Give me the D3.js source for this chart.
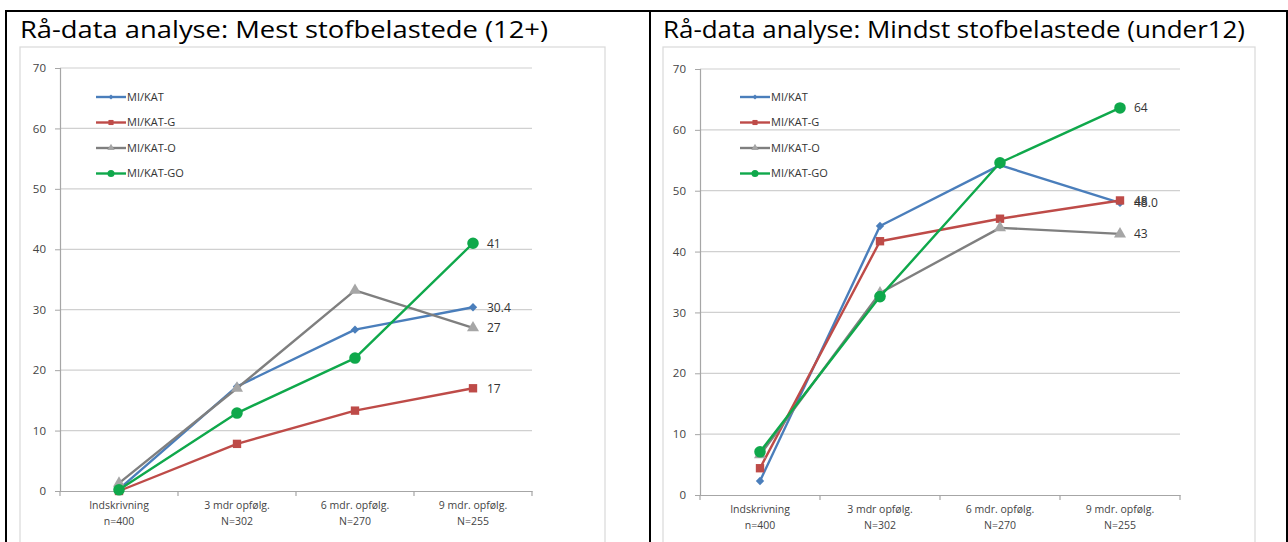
<!DOCTYPE html>
<html>
<head>
<meta charset="utf-8">
<script src="https://cdn.jsdelivr.net/npm/d3@7/dist/d3.min.js"></script>
<style>
  html, body { margin: 0; padding: 0; background: #fff; }
  svg { display: block; }
  .tick text { font-family: "Open Sans", "Noto Sans", sans-serif; }
</style>
</head>
<body>
<svg id="page" width="1288" height="542"></svg>
<script>
// Follow-up time points (two label lines each)
const categoryNames = ["Indskrivning", "3 mdr opfølg.", "6 mdr. opfølg.", "9 mdr. opfølg."];
const categoryCounts = ["n=400", "N=302", "N=270", "N=255"];
const yTicks = [0, 10, 20, 30, 40, 50, 60, 70];

const seriesNames = ["MI/KAT", "MI/KAT-G", "MI/KAT-O", "MI/KAT-GO"];
const seriesColors = ["#4a7ebb", "#be4b48", "#7f7f7f", "#0fa84b"];
const markerColors = ["#4a7ebb", "#be4b48", "#a6a6a6", "#0fa84b"];
const seriesFormats = [".1f", ".0f", ".0f", ".0f"];

// Mest stofbelastede (12+)
const mostKAT   = [0.3, 17.3, 26.7, 30.4];
const mostKATG  = [0.0, 7.8, 13.3, 17.0];
const mostKATO  = [1.3, 17.0, 33.2, 27.0];
const mostKATGO = [0.2, 12.9, 22.0, 41.0];

// Mindst stofbelastede (under12)
const leastKAT   = [2.3, 44.2, 54.2, 48.0];
const leastKATG  = [4.4, 41.7, 45.4, 48.4];
const leastKATO  = [6.6, 33.2, 43.9, 42.9];
const leastKATGO = [7.1, 32.6, 54.6, 63.6];

const titles = [
  "Rå-data analyse: Mest stofbelastede (12+)",
  "Rå-data analyse: Mindst stofbelastede (under12)"
];

const svg = d3.select("#page");

// table frame
svg.append("line").attr("x1", 5).attr("x2", 1288).attr("y1", 11).attr("y2", 11)
  .attr("stroke", "#000").attr("stroke-width", 2);
[6, 650, 1287].forEach(x => {
  svg.append("line").attr("x1", x).attr("x2", x).attr("y1", 10).attr("y2", 542)
    .attr("stroke", "#000").attr("stroke-width", 2);
});

function drawChart(cfg) {
  const g = svg.append("g");

  // cell heading
  g.append("text")
    .attr("x", cfg.titleX).attr("y", 38)
    .attr("font-family", "'Open Sans', 'Noto Sans', sans-serif")
    .attr("font-size", 24.5)
    .attr("fill", "#000")
    .attr("textLength", cfg.titleW)
    .attr("lengthAdjust", "spacingAndGlyphs")
    .text(cfg.title);

  // chart area frame
  g.append("rect")
    .attr("x", cfg.box[0]).attr("y", cfg.box[1])
    .attr("width", cfg.box[2]).attr("height", cfg.box[3])
    .attr("fill", "#fff").attr("stroke", "#d9d9d9").attr("stroke-width", 1.2);

  const x = d3.scaleBand().domain(categoryNames).range([cfg.left, cfg.right]).padding(0);
  const y = d3.scaleLinear().domain([0, 70]).range([cfg.bottom, cfg.top]);

  // gridlines
  g.append("g").selectAll("line").data(yTicks.filter(t => t > 0)).join("line")
    .attr("x1", cfg.left).attr("x2", cfg.right)
    .attr("y1", d => y(d)).attr("y2", d => y(d))
    .attr("stroke", "#d0d0d0").attr("stroke-width", 1.2);

  // y axis
  const ya = g.append("g").attr("transform", `translate(${cfg.left},0)`)
    .call(d3.axisLeft(y).tickValues(yTicks).tickSize(5).tickPadding(9).tickFormat(d3.format("d")));
  ya.select(".domain").attr("stroke", "#a6a6a6").attr("stroke-width", 1.2);
  ya.selectAll(".tick line").attr("stroke", "#a6a6a6");
  ya.selectAll(".tick text").attr("font-size", 11.5).attr("fill", "#444");

  // x axis
  const xa = g.append("g").attr("transform", `translate(0,${cfg.bottom})`)
    .call(d3.axisBottom(x).tickSize(0).tickFormat(() => ""));
  xa.select(".domain").attr("stroke", "#a6a6a6").attr("stroke-width", 1.2);
  const bounds = categoryNames.map(c => x(c)).concat([cfg.right]);
  g.append("g").selectAll("line").data(bounds).join("line")
    .attr("x1", d => d).attr("x2", d => d)
    .attr("y1", cfg.bottom).attr("y2", cfg.bottom + 5)
    .attr("stroke", "#a6a6a6").attr("stroke-width", 1.2);
  const cl = g.append("g").selectAll("text").data(categoryNames).join("text")
    .attr("x", d => x(d) + x.bandwidth() / 2)
    .attr("y", cfg.bottom + 18)
    .attr("text-anchor", "middle")
    .attr("font-family", "'Open Sans', 'Noto Sans', sans-serif")
    .attr("font-size", 10.5).attr("fill", "#444");
  cl.append("tspan").attr("x", d => x(d) + x.bandwidth() / 2).text(d => d);
  cl.append("tspan").attr("x", d => x(d) + x.bandwidth() / 2).attr("dy", 16)
    .text((d, i) => categoryCounts[i]);

  const cx = c => x(c) + x.bandwidth() / 2;
  const line = d3.line().x((d, i) => cx(categoryNames[i])).y(d => y(d));

  function marker(sel, k, size) {
    const shapes = [d3.symbolSquare, d3.symbolSquare, d3.symbolTriangle, d3.symbolCircle];
    const sizes = [size * 0.5, size, size * 0.9, size * 1.5];
    return sel.append("path")
      .attr("d", d3.symbol().type(shapes[k]).size(sizes[k]))
      .attr("transform", k === 0 ? "rotate(45)" : null)
      .attr("fill", markerColors[k]);
  }

  cfg.series.forEach((vals, k) => {
    g.append("path").datum(vals)
      .attr("d", line).attr("fill", "none")
      .attr("stroke", seriesColors[k]).attr("stroke-width", 2.4)
      .attr("stroke-linejoin", "round");
    vals.forEach((v, i) => {
      const m = g.append("g").attr("transform", `translate(${cx(categoryNames[i])},${y(v)})`);
      marker(m, k, 70);
    });
    const last = vals[vals.length - 1];
    g.append("text")
      .attr("x", cx(categoryNames[3]) + 14).attr("y", y(last))
      .attr("dy", "0.36em")
      .attr("font-family", "'Open Sans', 'Noto Sans', sans-serif")
      .attr("font-size", 12).attr("fill", "#333")
      .text(d3.format(seriesFormats[k])(last));
  });

  // legend
  const lg = g.append("g").attr("transform", `translate(${cfg.legend[0]},${cfg.legend[1]})`);
  seriesNames.forEach((name, k) => {
    const row = lg.append("g").attr("transform", `translate(0,${k * 25.5})`);
    row.append("line").attr("x1", 0).attr("x2", 30)
      .attr("stroke", seriesColors[k]).attr("stroke-width", 2.4);
    marker(row.append("g").attr("transform", "translate(15,0)"), k, 26);
    row.append("text").attr("x", 31).attr("dy", "0.36em")
      .attr("font-family", "'Open Sans', 'Noto Sans', sans-serif")
      .attr("font-size", 11).attr("fill", "#333")
      .text(name);
  });
}

drawChart({
  title: titles[0], titleX: 20, titleW: 528,
  box: [20, 47, 585, 520],
  left: 60, right: 532, top: 68, bottom: 491,
  legend: [96, 97],
  series: [mostKAT, mostKATG, mostKATO, mostKATGO]
});

drawChart({
  title: titles[1], titleX: 663, titleW: 582,
  box: [663, 47, 592, 520],
  left: 700, right: 1180, top: 69, bottom: 495,
  legend: [740, 97],
  series: [leastKAT, leastKATG, leastKATO, leastKATGO]
});
</script>
</body>
</html>
